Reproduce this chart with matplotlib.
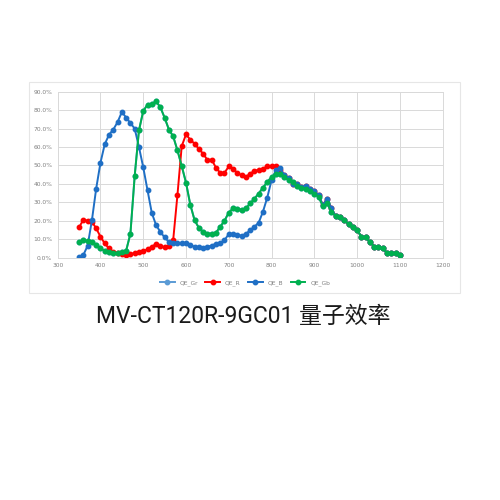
import matplotlib
matplotlib.use("Agg")
import matplotlib.pyplot as plt
from matplotlib.patches import Rectangle
from matplotlib.ticker import FuncFormatter

wl = list(range(350, 1101, 10))

# 350-500, 510-660, 670-820, 830-940, 950-1100
qe_b = [0.2, 1.5, 6.5, 20.3, 37.5, 51.5, 61.5, 66.7, 69.5, 73.5, 79.0, 76.0, 73.0, 70.0, 60.0, 49.0,
        36.6, 24.3, 17.7, 14.0, 11.0, 8.6, 8.0, 8.0, 7.7, 7.7, 6.8, 6.0, 5.6, 5.4, 6.0, 6.5,
        7.6, 8.0, 9.5, 12.8, 13.0, 12.3, 12.0, 12.8, 15.0, 16.8, 19.0, 25.0, 32.6, 42.0, 47.4, 48.6,
        44.7, 43.4, 40.0, 39.8, 38.4, 38.7, 37.0, 36.0, 34.0, 28.5, 32.0, 26.7,
        22.5, 22.0, 20.4, 18.2, 16.8, 15.0, 11.4, 11.0, 8.6, 6.0, 5.6, 5.0, 2.7, 2.7, 2.3, 1.4]

qe_gb = [8.6, 9.6, 9.0, 8.5, 6.8, 5.0, 3.8, 2.9, 2.3, 2.7, 3.2, 3.8, 13.0, 44.3, 69.0, 79.5,
         83.0, 83.4, 84.7, 81.6, 75.9, 69.5, 65.8, 58.2, 49.7, 40.7, 28.8, 20.4, 16.2, 14.0, 13.0, 13.1,
         13.5, 16.8, 20.0, 24.5, 26.7, 26.5, 26.0, 26.7, 29.4, 32.0, 34.8, 38.0, 41.0, 43.8, 45.6, 45.6,
         43.8, 42.0, 41.0, 38.7, 38.0, 37.5, 36.2, 34.8, 33.0, 28.0, 29.4, 24.9,
         22.5, 22.0, 20.4, 18.2, 16.8, 15.0, 11.4, 11.0, 8.6, 6.0, 5.6, 5.0, 2.7, 2.7, 2.3, 1.4]

qe_gr = list(qe_gb)

qe_r = [16.4, 20.7, 20.0, 19.5, 15.9, 11.4, 7.7, 5.0, 3.2, 2.3, 2.0, 1.4, 1.8, 2.7, 3.2, 3.6,
        4.5, 6.0, 7.4, 6.5, 5.6, 6.3, 9.5, 34.0, 60.5, 66.8, 64.0, 61.8, 59.0, 56.4, 53.0, 53.2,
        48.8, 46.0, 46.0, 49.5, 48.3, 45.9, 44.7, 43.8, 45.6, 47.0, 47.7, 48.3, 49.5, 49.9, 49.9, 47.7,
        44.7, 43.4, 40.0, 39.8, 38.4, 38.7, 37.0, 36.0, 34.0, 28.5, 32.0, 26.7,
        22.5, 22.0, 20.4, 18.2, 16.8, 15.0, 11.4, 11.0, 8.6, 6.0, 5.6, 5.0, 2.7, 2.7, 2.3, 1.4]

series = [("QE_Gr", qe_gr, "#5B9BD5"), ("QE_R", qe_r, "#FF0000"),
          ("QE_B", qe_b, "#1F6FC5"), ("QE_Gb", qe_gb, "#00B050")]

xticks = list(range(300, 1201, 100))
yticks = list(range(0, 91, 10))

plt.rcParams['font.family'] = ['DejaVu Sans', 'Noto Sans CJK SC']

fig = plt.figure(figsize=(5, 5), dpi=100)
fig.patches.append(Rectangle((29/500, 1-293/500), (460-29)/500, (293-82)/500,
                             transform=fig.transFigure, fill=False, edgecolor="#e6e6e6", lw=0.8))
ax = fig.add_axes([57.7/500, 1-257.7/500, (442.6-57.7)/500, (257.7-91.7)/500])

for name, vals, col in series:
    ax.plot(wl, vals, color=col, lw=1.4, marker='o', ms=3.2, label=name)

ax.set_xlim(300, 1200)
ax.set_ylim(0, 90)
ax.set_xticks(xticks)
ax.set_yticks(yticks)
ax.yaxis.set_major_formatter(FuncFormatter(lambda v, p: f"{v:.1f}%"))
ax.tick_params(length=0, labelsize=4.3, labelcolor="#808080", pad=4)
ax.grid(True, color="#d9d9d9", lw=0.7)
for s in ax.spines.values():
    s.set_color("#d9d9d9")
    s.set_linewidth(0.7)

leg = fig.legend(loc="center", bbox_to_anchor=(245/500, 1-283/500), ncol=4, frameon=False,
                 fontsize=4.3, handlelength=2.5, columnspacing=1.2, labelcolor="#808080")

fig.text(243/500, 1-316/500, "MV-CT120R-9GC01 量子效率", ha="center", va="center",
         fontsize=16.5, color="#1a1a1a", family=['Roboto', 'Noto Sans CJK SC'])

fig.savefig("out.png", dpi=100)
